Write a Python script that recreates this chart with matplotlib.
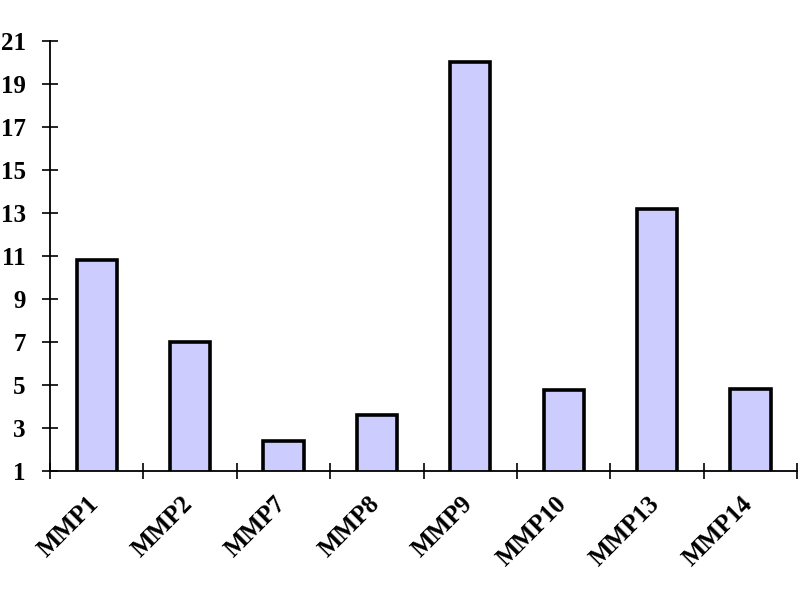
import numpy as np
import matplotlib
matplotlib.use('Agg')
import matplotlib.pyplot as plt
from matplotlib.transforms import ScaledTranslation

# values
genes = ['MMP1', 'MMP2', 'MMP7', 'MMP8', 'MMP9', 'MMP10', 'MMP13', 'MMP14']
fold = [10.8, 7.0, 2.4, 3.6, 20.0, 4.75, 13.2, 4.8]
yticks = [1, 3, 5, 7, 9, 11, 13, 15, 17, 19, 21]

plt.rcParams['font.family'] = ['Liberation Serif', 'DejaVu Serif']
plt.rcParams['font.weight'] = 'bold'

fig = plt.figure(figsize=(8, 6), dpi=100)
ax = fig.add_axes([0.0625, 0.215, 0.934, 0.717])

x = np.arange(len(genes))
ax.bar(x, fold, width=0.43, color='#CCCCFF', edgecolor='black', linewidth=2.6, zorder=2)

ax.set_xlim(-0.5, len(genes) - 0.5)
ax.set_ylim(1, 21)
ax.set_yticks(yticks)
ax.set_yticklabels([str(t) for t in yticks], fontsize=18, fontweight='bold')

# boundary ticks (major) and labels on centers (minor)
ax.set_xticks(np.arange(len(genes) + 1) - 0.5)
ax.set_xticklabels([])
ax.set_xticks(x, minor=True)
ax.set_xticklabels(genes, minor=True, rotation=45, ha='right',
                   fontsize=18, fontweight='bold')
ax.tick_params(axis='x', which='minor', length=0, pad=15)
ax.tick_params(axis='both', which='major', direction='inout', length=11, width=1.2)
ax.tick_params(axis='y', pad=12)

# nudge rotated labels a bit to the right
shift = ScaledTranslation(7 / 100, 0, fig.dpi_scale_trans)
for lab in ax.get_xticklabels(minor=True):
    lab.set_transform(lab.get_transform() + shift)

for s in ['top', 'right']:
    ax.spines[s].set_visible(False)
for s in ['left', 'bottom']:
    ax.spines[s].set_linewidth(1.3)

fig.savefig('out.png', dpi=100)
